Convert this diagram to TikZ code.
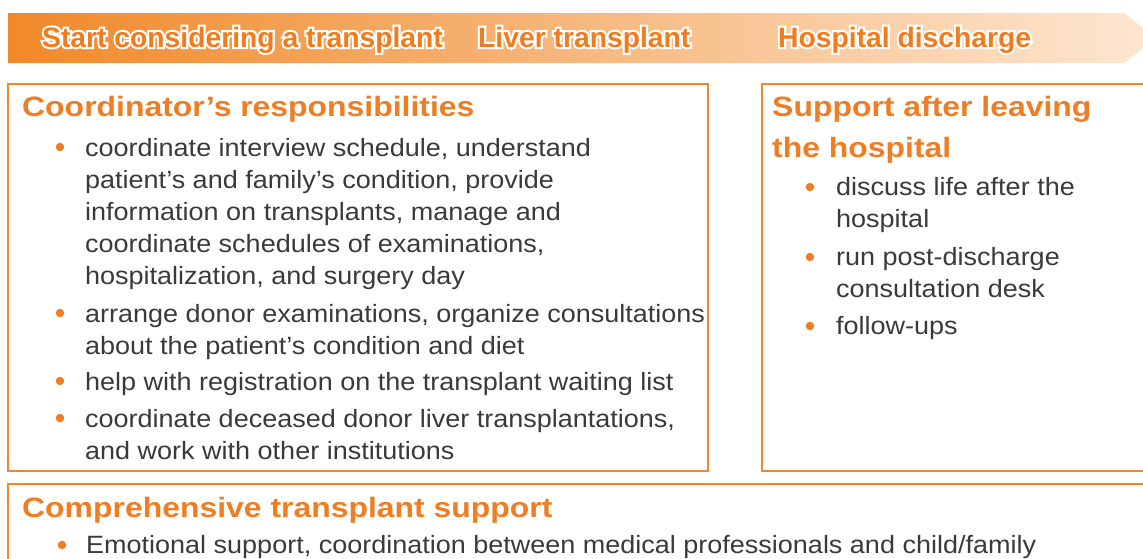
\documentclass[tikz,border=0pt]{standalone}
\usepackage{fontspec}
\setmainfont{Liberation Sans}
\newfontfamily\bodyfont[FakeStretch=1.08]{Liberation Sans}
\newfontfamily\headfont[FakeStretch=1.14]{Liberation Sans}
\newfontfamily\banfont[FakeStretch=1.01]{Liberation Sans}
\definecolor{headc}{HTML}{EE7D23}
\definecolor{boxc}{HTML}{F0872E}
\definecolor{bodyc}{HTML}{3A3A3A}
\definecolor{bannc}{HTML}{EF7D1F}
\definecolor{banL}{HTML}{F0892A}
\definecolor{banM}{HTML}{F7B77C}
\definecolor{banR}{HTML}{FDE7D2}
\tikzset{
  boxline/.style={draw=boxc, line width=1.3pt},
  head/.style={anchor=base west, inner sep=0pt, text=headc, align=left,
    font=\headfont\bfseries\fontsize{28}{41}\selectfont},
  body/.style={anchor=base west, inner sep=0pt, text=bodyc, align=left,
    font=\bodyfont\fontsize{25}{32}\selectfont},
  dot/.style={circle, fill=headc, inner sep=0pt, minimum size=8.5pt},
  btext/.style={anchor=base west, inner sep=0pt,
    font=\banfont\bfseries\fontsize{28}{30}\selectfont}
}
% outlined text: white stroke (render mode 2) behind, orange fill on top
\newcommand\outlined[1]{%
  \leavevmode\rlap{\special{pdf:literal direct 2 Tr 4.2 w 1 1 1 RG 1 1 1 rg}#1\special{pdf:literal direct 0 Tr 1 w}}%
  \textcolor{bannc}{#1}}
\begin{document}
\begin{tikzpicture}[x=1pt,y=-1pt]
\useasboundingbox (0,0) rectangle (1143,558);
\clip (0,0) rectangle (1143,558);
% banner
\shade[left color=banL, middle color=banM, right color=banR]
  (8,13) -- (1124,13) -- (1156,38) -- (1124,63) -- (8,63) -- cycle;
\node[btext] (b1) at (42,47) {\outlined{Start considering a transplant}};
\node[btext] (b2) at (478,47) {\outlined{Liver transplant}};
\node[btext] (b3) at (778,47) {\outlined{Hospital discharge}};
% boxes
\draw[boxline] (8,84) rectangle (708,471);
\draw[boxline] (762,84) rectangle (1170,471);
\draw[boxline] (8,484) rectangle (1170,600);
% left box (base anchor = baseline of last line)
\node[head] (h1) at (22,116) {Coordinator’s responsibilities};
\node[dot] (d11) at (60,147) {};
\node[body] (t11) at (85,284) {coordinate interview schedule, understand\\patient’s and family’s condition, provide\\information on transplants, manage and\\coordinate schedules of examinations,\\hospitalization, and surgery day};
\node[dot] (d12) at (60,313) {};
\node[body] (t12) at (85,354) {arrange donor examinations, organize consultations\\about the patient’s condition and diet};
\node[dot] (d13) at (60,381) {};
\node[body] (t13) at (85,390) {help with registration on the transplant waiting list};
\node[dot] (d14) at (60,418) {};
\node[body] (t14) at (85,459) {coordinate deceased donor liver transplantations,\\and work with other institutions};
% right box
\node[head] (h2) at (772,157) {Support after leaving\\the hospital};
\node[dot] (d21) at (810,187) {};
\node[body] (t21) at (836,227) {discuss life after the\\hospital};
\node[dot] (d22) at (810,257) {};
\node[body] (t22) at (836,297) {run post-discharge\\consultation desk};
\node[dot] (d23) at (810,326) {};
\node[body] (t23) at (836,334) {follow-ups};
% bottom box
\node[head] (h3) at (22,517) {Comprehensive transplant support};
\node[dot] (d31) at (62,545) {};
\node[body] (t31) at (86,553) {Emotional support, coordination between medical professionals and child/family};
\end{tikzpicture}
\end{document}
